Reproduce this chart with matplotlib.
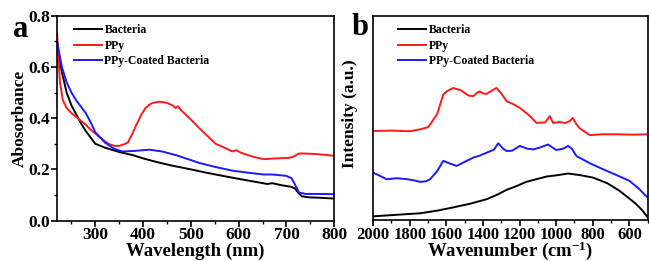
import matplotlib
matplotlib.use("Agg")
import matplotlib.pyplot as plt
import numpy as np
from matplotlib.ticker import MultipleLocator

# panel a: UV-vis absorbance
wl_bac = [220, 225, 230, 240, 250, 260, 270, 280, 290, 300, 320, 350, 380, 400, 430, 460, 500,
          530, 560, 600, 630, 660, 670, 690, 710, 718, 725, 732, 745, 770, 800]
abs_bac = [0.68, 0.63, 0.58, 0.50, 0.45, 0.415, 0.38, 0.35, 0.325, 0.30, 0.285, 0.268, 0.255, 0.243,
           0.228, 0.215, 0.20, 0.188, 0.177, 0.163, 0.153, 0.143, 0.146, 0.138, 0.132, 0.125, 0.108,
           0.095, 0.091, 0.089, 0.086]

wl_ppy = [220, 222, 226, 232, 240, 250, 260, 270, 280, 290, 300, 310, 320, 330, 340, 350, 360, 368,
          375, 385, 395, 405, 413, 420, 434, 450, 462, 468, 473, 480, 500, 518, 535, 552, 570, 587,
          595, 605, 629, 652, 680, 705, 715, 726, 740, 760, 780, 800]
abs_ppy = [0.73, 0.66, 0.54, 0.47, 0.44, 0.42, 0.405, 0.39, 0.375, 0.355, 0.34, 0.325, 0.31, 0.298,
           0.292, 0.292, 0.298, 0.305, 0.33, 0.37, 0.41, 0.44, 0.453, 0.46, 0.465, 0.46, 0.45, 0.44,
           0.447, 0.43, 0.395, 0.36, 0.33, 0.30, 0.285, 0.27, 0.275, 0.265, 0.25, 0.24, 0.243, 0.245,
           0.25, 0.262, 0.262, 0.26, 0.257, 0.253]

wl_coat = [220, 225, 230, 240, 250, 260, 270, 280, 290, 300, 320, 340, 357, 380, 413, 440, 470, 518,
           550, 587, 620, 652, 670, 699, 711, 718, 726, 740, 770, 800]
abs_coat = [0.70, 0.65, 0.60, 0.54, 0.50, 0.47, 0.445, 0.42, 0.385, 0.345, 0.305, 0.28, 0.27, 0.272,
            0.277, 0.27, 0.255, 0.225, 0.21, 0.195, 0.187, 0.18, 0.18, 0.175, 0.165, 0.14, 0.11, 0.104,
            0.104, 0.103]

# panel b: Raman spectra (arbitrary units)
wn_bac = [2000, 1900, 1744, 1650, 1562, 1470, 1380, 1320, 1271, 1220, 1163, 1100, 1053, 990, 935,
          870, 799, 720, 654, 600, 563, 530, 500]
int_bac = [1.8, 2.4, 3.3, 4.6, 6.2, 8.0, 10.2, 12.5, 14.8, 16.5, 18.7, 20.2, 21.3, 22.0, 22.8,
           22.0, 20.8, 18.0, 14.3, 10.5, 7.8, 4.8, 1.3]

wn_ppy = [2000, 1900, 1800, 1740, 1700, 1689, 1650, 1617, 1590, 1562, 1520, 1480, 1453, 1430, 1417,
          1400, 1380, 1350, 1326, 1300, 1271, 1240, 1199, 1150, 1108, 1060, 1035, 1017, 981, 950,
          926, 910, 890, 872, 817, 750, 654, 580, 500]
int_ppy = [43.6, 43.8, 43.5, 44.5, 45.5, 46.8, 52.0, 61.5, 63.5, 64.7, 63.5, 61.0, 60.7, 62.5, 63.0,
           62.0, 61.8, 63.5, 64.7, 62.0, 58.2, 57.0, 55.0, 51.5, 47.6, 47.8, 50.9, 47.6, 48.0, 47.5,
           48.5, 50.0, 47.0, 45.0, 41.6, 42.0, 42.0, 41.8, 42.0]

wn_coat = [2000, 1960, 1927, 1870, 1816, 1780, 1744, 1710, 1689, 1650, 1617, 1590, 1544, 1500, 1453,
           1420, 1380, 1340, 1317, 1290, 1271, 1240, 1199, 1160, 1126, 1090, 1044, 1020, 999, 960,
           935, 915, 890, 820, 745, 670, 600, 550, 500]
int_coat = [23.2, 21.5, 20.0, 20.5, 20.0, 19.5, 18.7, 19.0, 20.0, 24.0, 29.0, 28.0, 26.5, 28.5, 30.6,
            31.5, 33.0, 34.5, 37.6, 35.0, 33.8, 34.0, 36.3, 35.0, 34.6, 35.5, 37.0, 35.5, 34.3, 35.0,
            36.3, 35.0, 31.4, 28.0, 24.9, 22.0, 19.2, 15.5, 11.0]

labels = ["Bacteria", "PPy", "PPy-Coated Bacteria"]
colors = ["black", "#ff1a1a", "#1a1aff"]

plt.rcParams["font.family"] = ["Liberation Serif", "DejaVu Serif"]
plt.rcParams["font.weight"] = "bold"
plt.rcParams["axes.labelweight"] = "bold"
plt.rcParams["mathtext.fontset"] = "custom"
plt.rcParams["mathtext.rm"] = "Liberation Serif:bold"
plt.rcParams["mathtext.it"] = "Liberation Serif:bold"
plt.rcParams["mathtext.bf"] = "Liberation Serif:bold"

fig = plt.figure(figsize=(6.49, 2.61), dpi=100)
ax1 = fig.add_axes([0.088, 0.155, 0.427, 0.784])
ax2 = fig.add_axes([0.575, 0.157, 0.423, 0.782])

for ax in (ax1, ax2):
    for s in ax.spines.values():
        s.set_linewidth(1.2)
    ax.tick_params(direction="out", width=1.2, length=4, labelsize=12.5, pad=1)
    ax.tick_params(which="minor", direction="out", width=1, length=2.5)
ax2.tick_params(labelsize=12)

lw = 1.4
ax1.plot(wl_bac, abs_bac, color=colors[0], lw=lw, label=labels[0])
ax1.plot(wl_ppy, abs_ppy, color=colors[1], lw=lw, label=labels[1])
ax1.plot(wl_coat, abs_coat, color=colors[2], lw=lw, label=labels[2])
ax1.set_xlim(220, 800)
ax1.set_ylim(0, 0.8)
ax1.xaxis.set_major_locator(MultipleLocator(100))
ax1.xaxis.set_minor_locator(MultipleLocator(50))
ax1.yaxis.set_major_locator(MultipleLocator(0.2))
ax1.yaxis.set_minor_locator(MultipleLocator(0.1))
ax1.set_xticks([300, 400, 500, 600, 700, 800])
ax1.set_xlabel("Wavelength (nm)", fontsize=13.5, va="baseline")
ax1.xaxis.set_label_coords(0.5, -0.175)
ax1.set_ylabel("Abosorbance", fontsize=12.5, labelpad=0)
ax1.legend(loc="upper left", frameon=False, fontsize=8.5, handlelength=2.4,
           labelspacing=0.3, handletextpad=0.2, borderaxespad=0.3, bbox_to_anchor=(0.03, 1.0))

ax2.plot(wn_bac, int_bac, color=colors[0], lw=lw, label=labels[0])
ax2.plot(wn_ppy, int_ppy, color=colors[1], lw=lw, label=labels[1])
ax2.plot(wn_coat, int_coat, color=colors[2], lw=lw, label=labels[2])
ax2.set_xlim(2000, 500)
ax2.set_ylim(0, 100)
ax2.set_xticks([2000, 1800, 1600, 1400, 1200, 1000, 800, 600])
ax2.xaxis.set_minor_locator(MultipleLocator(100))
ax2.set_yticks([])
ax2.set_xlabel("Wavenumber (cm$^{-1}$)", fontsize=13.5, va="baseline")
ax2.xaxis.set_label_coords(0.5, -0.178)
ax2.set_ylabel("Intensity (a.u.)", fontsize=12.5)
ax2.yaxis.set_label_coords(-0.055, 0.52)
ax2.legend(loc="upper left", frameon=False, fontsize=8.5, handlelength=2.4,
           labelspacing=0.3, handletextpad=0.2, borderaxespad=0.3, bbox_to_anchor=(0.06, 1.0))

fig.text(0.02, 0.86, "a", fontsize=22, fontweight="bold")
fig.text(0.542, 0.865, "b", fontsize=22, fontweight="bold")

fig.savefig("out.png", dpi=100)
